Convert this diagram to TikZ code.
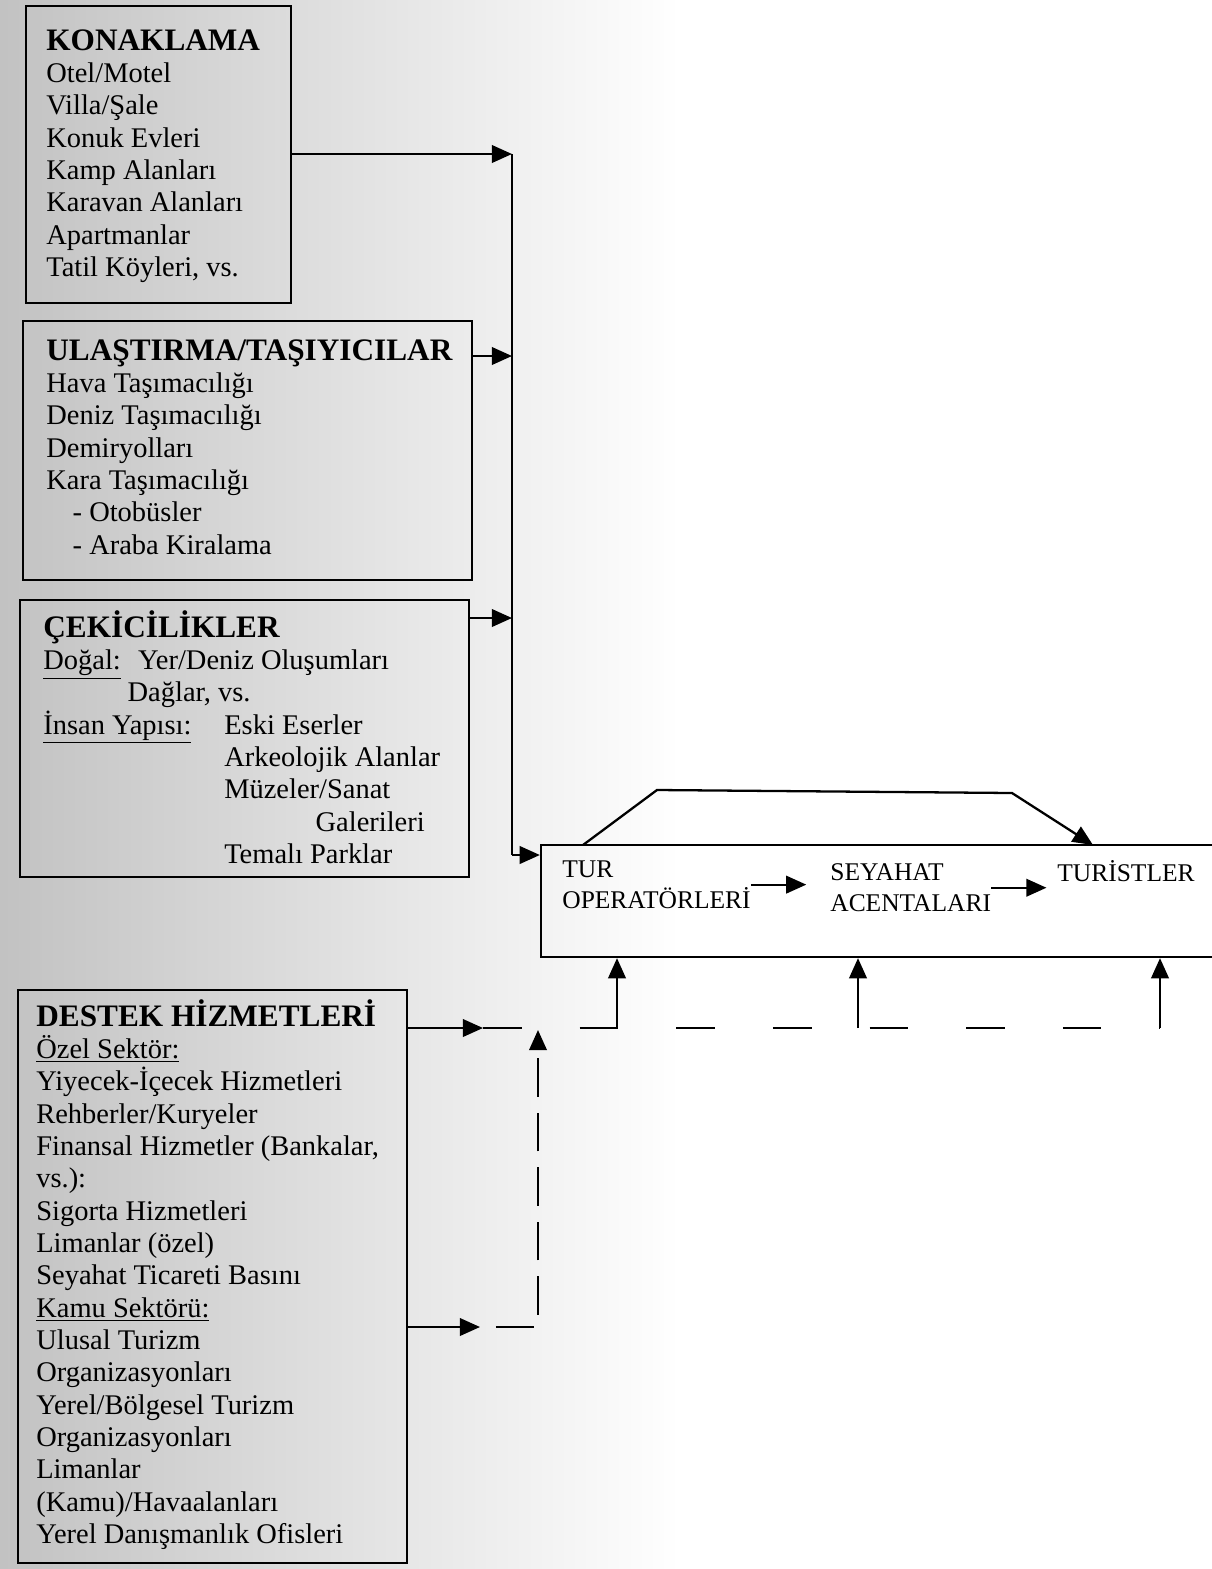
\documentclass[tikz,border=0pt]{standalone}
\usepackage{fontspec}
\setmainfont{Liberation Serif}
\usetikzlibrary{arrows.meta,fit,positioning}

\tikzset{
  kutu/.style={draw, line width=1.3pt, inner sep=0pt},
  liste/.style={anchor=north west, inner sep=0pt, align=left,
    font=\fontsize{16.2}{18.4}\selectfont},
  orta/.style={anchor=north west, inner sep=0pt, align=left,
    font=\fontsize{14.5}{18}\selectfont},
  ok/.style={line width=1.3pt, -{Triangle[length=11.5pt,width=10pt]}},
  cizgi/.style={line width=1.3pt},
  kesik/.style={line width=1.3pt, dash pattern=on 22pt off 33pt},
}
\newcommand{\baslik}[1]{{\fontsize{17.8}{18.4}\selectfont\bfseries #1}}

\begin{document}
\begin{tikzpicture}[x=0.02cm, y=-0.02cm]
\useasboundingbox (0,0) rectangle (1212,1569);
\clip (0,0) rectangle (1212,1569);
% zemin
\fill[white] (0,0) rectangle (1212,1569);
\shade[left color=black!24, right color=white] (0,0) rectangle (680,1569);

% sol kutular
\node[kutu, fit={(26,6)(291,303)}] (konaklama) {};
\node[liste] (konaklamaYazi) at (46,29) {\baslik{KONAKLAMA}\\Otel/Motel\\Villa/Şale\\Konuk Evleri\\Kamp Alanları\\Karavan Alanları\\Apartmanlar\\Tatil Köyleri, vs.};

\node[kutu, fit={(23,321)(472,580)}] (ulastirma) {};
\node[liste] (ulastirmaYazi) at (46,339) {\baslik{ULAŞTIRMA/TAŞIYICILAR}\\Hava Taşımacılığı\\Deniz Taşımacılığı\\Demiryolları\\Kara Taşımacılığı\\\hspace*{15pt}- Otobüsler\\\hspace*{15pt}- Araba Kiralama};

\node[kutu, fit={(20,600)(469,877)}] (cekicilik) {};
\node[liste] (cekicilikYazi) at (43,610) {\baslik{ÇEKİCİLİKLER}\\
  \makebox[54pt][l]{\underline{Doğal:}}Yer/Deniz Oluşumları\\
  \hspace*{48pt}Dağlar, vs.\\
  \makebox[103pt][l]{\underline{İnsan Yapısı:}}Eski Eserler\\
  \hspace*{103pt}Arkeolojik Alanlar\\
  \hspace*{103pt}Müzeler/Sanat\\
  \hspace*{155pt}Galerileri\\
  \hspace*{103pt}Temalı Parklar};

\node[kutu, fit={(18,990)(407,1563)}] (destek) {};
\node[liste] (destekYazi) at (36,999) {\baslik{DESTEK HİZMETLERİ}\\\underline{Özel Sektör:}\\Yiyecek-İçecek Hizmetleri\\Rehberler/Kuryeler\\Finansal Hizmetler (Bankalar,\\vs.):\\Sigorta Hizmetleri\\Limanlar (özel)\\Seyahat Ticareti Basını\\\underline{Kamu Sektörü:}\\Ulusal Turizm\\Organizasyonları\\Yerel/Bölgesel Turizm\\Organizasyonları\\Limanlar\\(Kamu)/Havaalanları\\Yerel Danışmanlık Ofisleri};

% sag kutu
\node[kutu, fit={(541,845)(1260,957)}] (hedef) {};
\node[orta] (tur) at (562,860) {TUR\\OPERATÖRLERİ};
\node[orta] (seyahat) at (830,863) {SEYAHAT\\ACENTALARI};
\node[orta] (turist) at (1057,860) {TURİSTLER};
\draw[ok, shorten >=13.5pt] (tur.east) -- (tur.east -| seyahat.west);
\draw[ok, shorten >=6pt] (seyahat.east) -- (seyahat.east -| turist.west);

% ust baglanti
\coordinate (b0) at (583,845);
\coordinate (b1) at (657,790);
\coordinate (b2) at (1012,793);
\coordinate (b3) at (1093,845);
\draw[ok] (b0) -- (b1) -- (b2) -- (b3);

% toplayici hat
\coordinate (h1) at (512,154);
\coordinate (h2) at (512,356);
\coordinate (h3) at (512,618);
\coordinate (topla) at (512,855);
\draw[ok] (konaklama.east |- h1) -- (h1);
\draw[ok] (ulastirma.east |- h2) -- (h2);
\draw[ok] (cekicilik.east |- h3) -- (h3);
\draw[cizgi] (h1) -- (topla);
\draw[ok] (topla) -- (topla -| hedef.west);

% destek hizmetleri
\coordinate (d0) at (483,1028);
\coordinate (d1) at (617,1028);
\coordinate (d2) at (858,1028);
\coordinate (d3) at (1160,1028);
\draw[ok] (destek.east |- d0) -- (d0);
\draw[kesik] (d0) -- (d3);
\foreach \d in {d1,d2,d3}
  \draw[ok] (\d) -- (\d |- hedef.south);

\coordinate (e0) at (480,1327);
\coordinate (e1) at (538,1327);
\coordinate (e2) at (538,1030);
\draw[ok] (destek.east |- e0) -- (e0);
\draw[ok, dash pattern=on 22pt off 9pt, dash phase=22pt] (e0) -- (e1) -- (e2);
\end{tikzpicture}
\end{document}
